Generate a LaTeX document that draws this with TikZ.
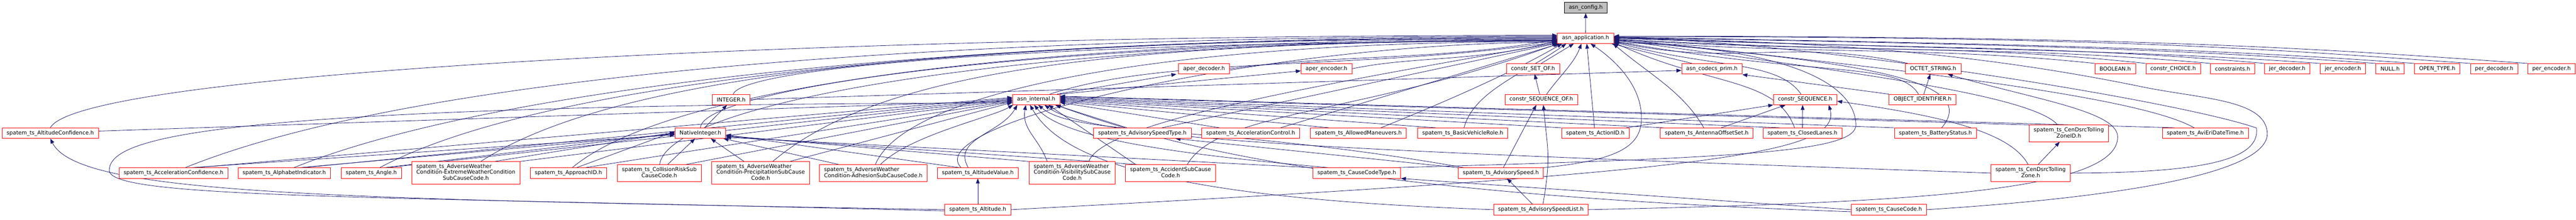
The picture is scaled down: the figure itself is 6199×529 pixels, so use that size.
\documentclass[tikz,border=0pt]{standalone}
\usepackage{fontspec}
\setmainfont{DejaVu Sans}
\usetikzlibrary{arrows.meta}
\pgfdeclarelayer{bg}
\pgfsetlayers{bg,main}
\definecolor{navy}{HTML}{191970}
\definecolor{bred}{HTML}{FF0000}
\definecolor{cfgfill}{HTML}{BFBFBF}
\newcommand{\twol}[2]{\begin{tabular}{@{}l@{}}#1\\\multicolumn{1}{@{}c@{}}{#2}\end{tabular}}
\newcommand{\threel}[3]{\begin{tabular}{@{}l@{}}#1\\#2\\\multicolumn{1}{@{}c@{}}{#3}\end{tabular}}
\tikzset{
  box/.style={draw=bred, line width=1pt, fill=white, rectangle, inner xsep=11pt, inner ysep=0pt,
              minimum height=25pt, font=\fontsize{13}{14.5}\selectfont, text=black},
  boxtwo/.style={box, minimum height=40pt},
  boxthree/.style={box, minimum height=54pt},
  cfgbox/.style={box, draw=black, fill=cfgfill},
  e/.style={draw=navy, line width=1pt, -{Triangle[length=12pt,width=9pt,quick]}}
}
\begin{document}
\begin{tikzpicture}[x=1pt,y=1pt]
\useasboundingbox (0,0) rectangle (6199,-529);
% row 0-1
\node[cfgbox] (cfg) at (3816,-18.5) {asn\_config.h};
\node[box] (app) at (3815.5,-92) {asn\_application.h};
% row 2
\node[box] (apdec) at (2897.5,-165.5) {aper\_decoder.h};
\node[box] (apenc) at (3192,-165.5) {aper\_encoder.h};
\node[box] (setof) at (3689,-165.5) {constr\_SET\_OF.h};
\node[box] (prim) at (4119.5,-165.5) {asn\_codecs\_prim.h};
\node[box] (octet) at (4652,-165.5) {OCTET\_STRING.h};
\node[box] (bool) at (5090,-165.5) {BOOLEAN.h};
\node[box] (choice) at (5229.5,-165.5) {constr\_CHOICE.h};
\node[box] (constr) at (5372.5,-165.5) {constraints.h};
\node[box] (jerdec) at (5504,-165.5) {jer\_decoder.h};
\node[box] (jerenc) at (5638,-165.5) {jer\_encoder.h};
\node[box] (null) at (5751.5,-165.5) {NULL.h};
\node[box] (opentype) at (5865,-165.5) {OPEN\_TYPE.h};
\node[box] (perdec) at (6002,-165.5) {per\_decoder.h};
\node[box] (perenc) at (6140,-165.5) {per\_encoder.h};
% row 3
\node[box] (internal) at (2493.5,-239.5) {asn\_internal.h};
\node[box] (integer) at (1759.5,-239.5) {INTEGER.h};
\node[box] (seqof) at (3709,-239.5) {constr\_SEQUENCE\_OF.h};
\node[box] (seq) at (4344,-239.5) {constr\_SEQUENCE.h};
\node[box] (oid) at (4626.5,-239.5) {OBJECT\_IDENTIFIER.h};
% row 4
\node[box] (altconf) at (121,-320.5) {spatem\_ts\_AltitudeConfidence.h};
\node[box] (native) at (1685.5,-320.5) {NativeInteger.h};
\node[box] (advtype) at (2749,-320.5) {spatem\_ts\_AdvisorySpeedType.h};
\node[box] (accctl) at (3009.5,-320.5) {spatem\_ts\_AccelerationControl.h};
\node[box] (allowed) at (3269,-320.5) {spatem\_ts\_AllowedManeuvers.h};
\node[box] (bvrole) at (3520,-320.5) {spatem\_ts\_BasicVehicleRole.h};
\node[box] (action) at (3839,-320.5) {spatem\_ts\_ActionID.h};
\node[box] (antenna) at (4107,-320.5) {spatem\_ts\_AntennaOffsetSet.h};
\node[box] (closed) at (4337.5,-320.5) {spatem\_ts\_ClosedLanes.h};
\node[box] (battery) at (4657.5,-320.5) {spatem\_ts\_BatteryStatus.h};
\node[boxtwo] (zoneid) at (4978.5,-321) {\twol{spatem\_ts\_CenDsrcTolling}{ZoneID.h}};
\node[box] (avieri) at (5307,-320.5) {spatem\_ts\_AviEriDateTime.h};
% row 5
\node[box] (accconf) at (417.5,-416.5) {spatem\_ts\_AccelerationConfidence.h};
\node[box] (alpha) at (684,-416.5) {spatem\_ts\_AlphabetIndicator.h};
\node[box] (angle) at (893.5,-416.5) {spatem\_ts\_Angle.h};
\node[boxthree] (extreme) at (1121,-416) {\threel{spatem\_ts\_AdverseWeather}{Condition-ExtremeWeatherCondition}{SubCauseCode.h}};
\node[box] (approach) at (1368,-416.5) {spatem\_ts\_ApproachID.h};
\node[boxtwo] (collision) at (1586.5,-416.5) {\twol{spatem\_ts\_CollisionRiskSub}{CauseCode.h}};
\node[boxthree] (precip) at (1830.5,-416) {\threel{spatem\_ts\_AdverseWeather}{Condition-PrecipitationSubCause}{Code.h}};
\node[boxtwo] (adhesion) at (2101.5,-416.5) {\twol{spatem\_ts\_AdverseWeather}{Condition-AdhesionSubCauseCode.h}};
\node[box] (altval) at (2353,-416.5) {spatem\_ts\_AltitudeValue.h};
\node[boxthree] (visib) at (2580,-416) {\threel{spatem\_ts\_AdverseWeather}{Condition-VisibilitySubCause}{Code.h}};
\node[boxtwo] (accident) at (2817,-416.5) {\twol{spatem\_ts\_AccidentSubCause}{Code.h}};
\node[box] (cctype) at (3265,-416.5) {spatem\_ts\_CauseCodeType.h};
\node[box] (advspeed) at (3611.5,-416.5) {spatem\_ts\_AdvisorySpeed.h};
\node[boxtwo] (zone) at (4886.5,-416.5) {\twol{spatem\_ts\_CenDsrcTolling}{Zone.h}};
% row 6
\node[box] (altitude) at (2353,-504.5) {spatem\_ts\_Altitude.h};
\node[box] (advlist) at (3708,-504.5) {spatem\_ts\_AdvisorySpeedList.h};
\node[box] (causecode) at (4545.5,-504.5) {spatem\_ts\_CauseCode.h};

\begin{pgfonlayer}{bg}
% ---- library headers
\draw[e] (app) -- (cfg);
\draw[e] (apdec.east) .. controls +(8:250pt) and +(190:300pt) .. ([yshift=-3pt]app.west);
\draw[e] (apenc.east) .. controls +(12:150pt) and +(195:200pt) .. ([yshift=-6pt]app.west);
\draw[e] ([xshift=20pt]setof.north) -- ([xshift=-28pt]app.south);
\draw[e] ([xshift=-48pt]prim.north) -- ([xshift=-6pt]app.south east);
\draw[e] ([xshift=6pt]octet.north west) .. controls +(168:300pt) and +(-12:300pt) .. ([yshift=-8pt]app.east);
\draw[e] (bool.north west) .. controls +(174:400pt) and +(-4:500pt) .. ([yshift=-6pt]app.east);
\draw[e] (choice.north west) .. controls +(174:450pt) and +(-3:600pt) .. ([yshift=-4pt]app.east);
\draw[e] (constr.north west) .. controls +(175:500pt) and +(-3:700pt) .. ([yshift=-2pt]app.east);
\draw[e] (jerdec.north west) .. controls +(175:500pt) and +(-2:800pt) .. ([yshift=0pt]app.east);
\draw[e] (jerenc.north west) .. controls +(176:500pt) and +(-2:900pt) .. ([yshift=1pt]app.east);
\draw[e] (null.north west) .. controls +(176:500pt) and +(-1:1000pt) .. ([yshift=2pt]app.east);
\draw[e] (opentype.north west) .. controls +(176:500pt) and +(-1:1100pt) .. ([yshift=3pt]app.east);
\draw[e] (perdec.north west) .. controls +(176:500pt) and +(0:1200pt) .. ([yshift=4pt]app.east);
\draw[e] (perenc.north west) .. controls +(176:500pt) and +(0:1300pt) .. ([yshift=5pt]app.east);
\draw[e] ([xshift=33pt]internal.north) .. controls +(18:300pt) and +(188:500pt) .. ([yshift=-9pt]app.west);
\draw[e] ([xshift=50pt]internal.north) -- ([xshift=-5pt]apdec.south west);
\draw[e] (internal.north east) -- ([yshift=-5pt]apenc.west);
\draw[e] ([xshift=5pt]integer.north) .. controls +(70:70pt) and +(180:1200pt) .. ([yshift=-7pt]app.west);
\draw[e] (integer.east) -- ([yshift=-4pt]prim.west);
\draw[e] ([xshift=10pt]native.north) -- ([xshift=-10pt]integer.south);
\draw[e] (native.north) .. controls +(88:90pt) and +(180:1300pt) .. ([yshift=-5pt]app.west);
\draw[e] ([xshift=-4pt]seqof.north) -- ([xshift=4pt]setof.south);
\draw[e] ([xshift=13pt]seqof.north) .. controls +(55:50pt) and +(-110:50pt) .. ([xshift=-10pt]app.south);
\draw[e] ([xshift=-10pt]seq.north) .. controls +(125:100pt) and +(-15:250pt) .. ([yshift=-9pt]app.east);
\draw[e] ([xshift=3pt]oid.north) -- ([xshift=-7pt]octet.south);
\draw[e] ([xshift=-10pt]oid.north) .. controls +(120:90pt) and +(-10:500pt) .. ([yshift=-7pt]app.east);
\draw[e] (oid.north west) -- ([yshift=-1pt]prim.south east);
% ---- row 4
\draw[e] (altconf.north) .. controls +(62:150pt) and +(180:1800pt) .. ([yshift=7pt]app.west);
\draw[e] ([yshift=5pt]altconf.east) -- ([yshift=-3pt]internal.west);
\draw[e] ([xshift=-37pt]advtype.north) -- ([xshift=-12pt]internal.south east);
\draw[e] ([xshift=47pt]advtype.north) -- ([yshift=1pt]app.south west);
\draw[e] ([xshift=-75pt]accctl.north) -- ([yshift=-7pt]internal.east);
\draw[e] ([xshift=72pt]accctl.north) -- ([xshift=6pt]app.south west);
\draw[e] ([xshift=-71pt]allowed.north) -- ([yshift=-5pt]internal.east);
\draw[e] ([xshift=54pt]allowed.north) .. controls +(22:150pt) and +(-150:150pt) .. ([xshift=12pt]app.south west);
\draw[e] ([xshift=-65pt]bvrole.north) -- ([yshift=-3pt]internal.east);
\draw[e] ([xshift=3pt]bvrole.north) .. controls +(75:90pt) and +(-145:130pt) .. ([xshift=22pt]app.south west);
\draw[e] (action.north west) -- ([yshift=-1pt]internal.east);
\draw[e] ([xshift=-2pt]action.north) -- ([xshift=3pt]app.south);
\draw[e] ([xshift=-8pt]action.north east) -- (seq.south west);
\draw[e] ([xshift=8pt]antenna.north west) -- ([yshift=1pt]internal.east);
\draw[e] ([xshift=-7pt]antenna.north) .. controls +(120:100pt) and +(-40:120pt) .. ([xshift=-2pt]app.south east);
\draw[e] ([xshift=35pt]antenna.north) -- ([xshift=-47pt]seq.south);
\draw[e] ([xshift=-54pt]closed.north) -- ([yshift=3pt]internal.east);
\draw[e] ([xshift=-19pt]closed.north) .. controls +(110:130pt) and +(-25:250pt) .. ([yshift=-10pt]app.east);
\draw[e] (closed.north) -- ([xshift=-6pt]seq.south);
\draw[e] (battery.north west) -- ([yshift=5pt]internal.east);
\draw[e] ([xshift=15pt]battery.north) .. controls +(50:150pt) and +(-5:600pt) .. ([yshift=-5pt]app.east);
\draw[e] (zoneid.north west) -- ([yshift=7pt]internal.east);
\draw[e] ([xshift=-27pt]zoneid.north) .. controls +(130:100pt) and +(-8:500pt) .. ([yshift=-3pt]app.east);
\draw[e] ([xshift=-74pt]avieri.north) -- ([yshift=8pt]internal.east);
\draw[e] ([xshift=-27pt]avieri.north) .. controls +(150:150pt) and +(-6:700pt) .. ([yshift=-1pt]app.east);
% ---- row 5
\draw[e] ([xshift=28pt]accconf.north) .. controls +(22:600pt) and +(180:1500pt) .. ([yshift=5pt]app.west);
\draw[e] ([xshift=41pt]accconf.north) -- ([yshift=-4pt]native.west);
\draw[e] ([xshift=53pt]accconf.north) -- ([yshift=5pt]internal.west);
\draw[e] ([xshift=23pt]alpha.north) .. controls +(22:500pt) and +(180:1500pt) .. ([yshift=3pt]app.west);
\draw[e] ([xshift=36pt]alpha.north) -- ([yshift=-2pt]native.west);
\draw[e] ([xshift=46pt]alpha.north) -- ([yshift=3pt]internal.west);
\draw[e] ([xshift=20pt]angle.north) .. controls +(28:450pt) and +(180:1400pt) .. ([yshift=1pt]app.west);
\draw[e] ([xshift=31pt]angle.north) -- ([yshift=0pt]native.west);
\draw[e] ([xshift=37pt]angle.north) -- ([yshift=1pt]internal.west);
\draw[e] ([xshift=36pt]extreme.north) .. controls +(33:400pt) and +(180:1400pt) .. ([yshift=-1pt]app.west);
\draw[e] ([xshift=69pt]extreme.north) -- ([yshift=2pt]native.west);
\draw[e] (extreme.north east) -- ([yshift=-1pt]internal.west);
\draw[e] ([xshift=9pt]approach.north) .. controls +(40:300pt) and +(180:1300pt) .. ([yshift=-2pt]app.west);
\draw[e] ([xshift=19pt]approach.north) -- ([yshift=4pt]native.west);
\draw[e] ([xshift=39pt]approach.north) -- ([yshift=-3pt]internal.west);
\draw[e] ([xshift=1pt]collision.north) .. controls +(83:150pt) and +(180:1300pt) .. ([yshift=-4pt]app.west);
\draw[e] ([xshift=20pt]collision.north) -- ([xshift=-13pt]native.south);
\draw[e] ([xshift=63pt]collision.north) -- ([yshift=-5pt]internal.west);
\draw[e] ([xshift=-40pt]precip.north) -- ([xshift=25pt]native.south);
\draw[e] ([xshift=29pt]precip.north) .. controls +(40:300pt) and +(180:1200pt) .. ([yshift=-6pt]app.west);
\draw[e] ([xshift=70pt]precip.north) -- ([yshift=-7pt]internal.west);
\draw[e] ([xshift=48pt]adhesion.north west) -- ([xshift=-6pt]native.south east);
\draw[e] ([xshift=5pt]adhesion.north) .. controls +(68:180pt) and +(180:1000pt) .. ([yshift=-8pt]app.west);
\draw[e] ([xshift=17pt]adhesion.north) .. controls +(45:100pt) and +(-150:60pt) .. ([xshift=2pt]internal.south west);
\draw[e] ([xshift=-43pt]altval.north) -- ([yshift=-4pt]native.east);
\draw[e] ([xshift=-40pt]altval.north) .. controls +(135:150pt) and +(180:700pt) .. ([yshift=-10pt]app.west);
\draw[e] ([xshift=-23pt]altval.north) .. controls +(120:80pt) and +(-120:80pt) .. ([xshift=12pt]internal.south west);
\draw[e] (visib.north west) -- ([yshift=-6pt]native.east);
\draw[e] ([xshift=-60pt]visib.north) .. controls +(110:60pt) and +(-100:60pt) .. ([xshift=-25pt]internal.south);
\draw[e] ([xshift=40pt]visib.north) .. controls +(70:100pt) and +(190:600pt) .. ([yshift=-11pt]app.west);
\draw[e] ([xshift=32pt]accident.north west) -- ([yshift=-8pt]native.east);
\draw[e] ([xshift=25pt]accident.north west) -- ([xshift=-28pt]internal.south east);
\draw[e] ([xshift=40pt]accident.north) .. controls +(60:150pt) and +(-160:500pt) .. ([xshift=2pt]app.south west);
\draw[e] (cctype.north west) -- ([yshift=-10pt]native.east);
\draw[e] ([xshift=40pt]cctype.north west) .. controls +(175:400pt) and +(-50:100pt) .. ([xshift=-5pt]internal.south);
\draw[e] ([xshift=-18pt]cctype.north east) .. controls (4200,-380) and (4468,-365) .. (4466,-300) .. controls (4464,-200) and (4300,-115) .. ([yshift=-10pt]app.east);
\draw[e] ([xshift=6pt]advspeed.north) -- ([xshift=-12pt]seqof.south);
\draw[e] (advspeed.north east) .. controls (3900,-385) and (3952,-350) .. (3950,-280) .. controls (3948,-200) and (3880,-140) .. ([xshift=12pt]app.south);
\draw[e] (advspeed.north west) -- ([xshift=-38pt]advtype.south east);
\draw[e] ([xshift=15pt]advspeed.north west) .. controls +(170:600pt) and +(-40:120pt) .. ([xshift=5pt]internal.south);
\draw[e] ([xshift=18pt]zone.north) -- ([xshift=-22pt]zoneid.south);
\draw[e] ([xshift=-6pt]zone.north) .. controls +(118:90pt) and +(-8:250pt) .. ([yshift=-4pt]seq.east);
\draw[e] (zone.west) .. controls +(178:1600pt) and +(-35:150pt) .. ([xshift=20pt]internal.south);
\draw[e] (zone.east) .. controls (5300,-416) and (5440,-385) .. (5430,-308) .. controls (5250,-245) and (4400,-105) .. ([yshift=3pt]app.east);
% ---- row 6
\draw[e] (altitude) -- (altval);
\draw[e] (altitude.west) .. controls (800,-478) and (190,-470) .. (altconf.south);
\draw[e] ([yshift=-3pt]altitude.west) .. controls (900,-472) and (262,-478) .. (263,-410) .. controls (264,-330) and (500,-252) .. ([yshift=-8pt]internal.west);
\draw[e] (altitude.east) .. controls +(3:1700pt) and +(-75:120pt) .. ([xshift=-20pt]seq.south east);
\draw[e] ([xshift=-20pt]advlist.north) -- ([xshift=15pt]advspeed.south);
\draw[e] ([xshift=5pt]advlist.north) .. controls +(80:120pt) and +(-85:100pt) .. ([xshift=5pt]seqof.south);
\draw[e] (advlist.west) .. controls +(178:800pt) and +(-60:150pt) .. ([xshift=-15pt]internal.south);
\draw[e] (advlist.east) .. controls (4600,-488) and (5095,-460) .. (5096,-330) .. controls (5097,-268) and (4900,-240) .. ([xshift=-32pt]octet.south east);
\draw[e] (causecode.west) -- (cctype.south east);
\draw[e] (causecode.east) .. controls (5150,-472) and (5460,-410) .. (5456,-320) .. controls (5452,-240) and (5300,-238) .. (5160,-210) .. controls (4700,-115) and (4300,-100) .. ([yshift=1pt]app.east);
\draw[e] ([yshift=-5pt]causecode.west) .. controls +(178:1200pt) and +(-20:300pt) .. ([xshift=-10pt]internal.south east);
\end{pgfonlayer}
\end{tikzpicture}
\end{document}
